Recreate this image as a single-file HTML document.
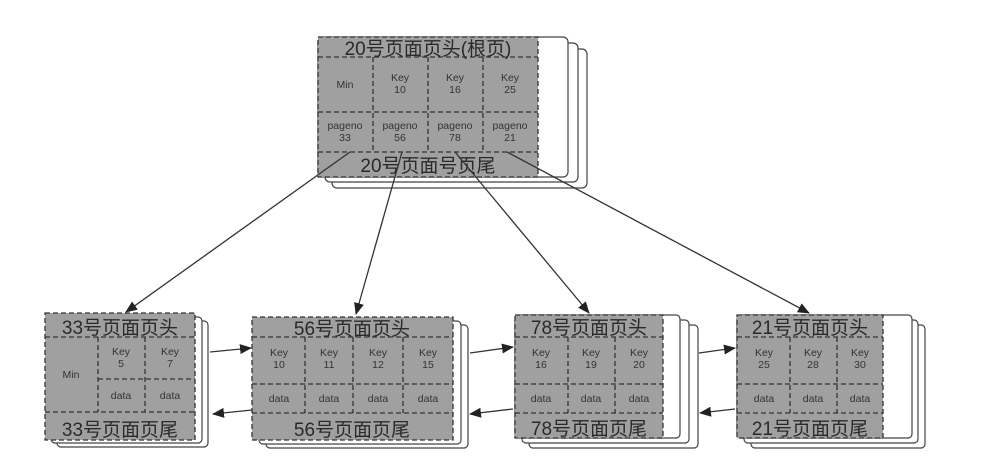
<!DOCTYPE html>
<html><head><meta charset="utf-8"><style>
html,body{margin:0;padding:0;background:#fff;}
svg{display:block;}
.h{font-family:"Liberation Sans","Noto Sans CJK SC",sans-serif;font-size:19px;fill:#2a2a2a;text-anchor:middle;}
.c{font-family:"Liberation Sans",sans-serif;font-size:10.5px;fill:#333;text-anchor:middle;}
.d{stroke:#333;stroke-width:1.3;stroke-dasharray:5,3;fill:none;}
.card{fill:#fff;stroke:#444;stroke-width:1.2;}
.g{fill:#a0a0a0;}
.a{stroke:#333;stroke-width:1.3;fill:none;marker-end:url(#ar);}
</style></head><body>
<svg width="1006" height="471" viewBox="0 0 1006 471">
<defs><marker id="ar" markerWidth="12" markerHeight="10" refX="11" refY="5" orient="auto" markerUnits="userSpaceOnUse"><path d="M0,0 L12,5 L0,10 z" fill="#222"/></marker></defs>

<!-- Root -->
<rect class="card" x="332" y="49" width="255" height="139" rx="5"/>
<rect class="card" x="325" y="43" width="253" height="139" rx="5"/>
<rect class="card" x="318" y="37" width="250" height="140" rx="5"/>
<rect class="g" x="318" y="37" width="220" height="140"/>
<rect class="d" x="318" y="37" width="220" height="140"/>
<line class="d" x1="318" y1="57" x2="538" y2="57"/>
<line class="d" x1="318" y1="112" x2="538" y2="112"/>
<line class="d" x1="318" y1="152" x2="538" y2="152"/>
<line class="d" x1="373" y1="57" x2="373" y2="152"/>
<line class="d" x1="428" y1="57" x2="428" y2="152"/>
<line class="d" x1="483" y1="57" x2="483" y2="152"/>
<text class="h" x="428" y="55">20号页面页头(根页)</text>
<text class="c" x="345" y="88">Min</text>
<text class="c" x="400" y="81">Key</text><text class="c" x="400" y="93">10</text>
<text class="c" x="455" y="81">Key</text><text class="c" x="455" y="93">16</text>
<text class="c" x="510" y="81">Key</text><text class="c" x="510" y="93">25</text>
<text class="c" x="345" y="129">pageno</text><text class="c" x="345" y="141">33</text>
<text class="c" x="400" y="129">pageno</text><text class="c" x="400" y="141">56</text>
<text class="c" x="455" y="129">pageno</text><text class="c" x="455" y="141">78</text>
<text class="c" x="510" y="129">pageno</text><text class="c" x="510" y="141">21</text>
<text class="h" x="428" y="172">20号页面号页尾</text>

<!-- 33 -->
<rect class="card" x="57" y="321" width="151" height="126" rx="4"/>
<rect class="card" x="51" y="317" width="151" height="126" rx="4"/>
<rect class="g" x="45" y="313" width="150" height="127"/>
<rect class="d" x="45" y="313" width="150" height="127"/>
<line class="d" x1="45" y1="337" x2="195" y2="337"/>
<line class="d" x1="98" y1="379" x2="195" y2="379"/>
<line class="d" x1="45" y1="412" x2="195" y2="412"/>
<line class="d" x1="98" y1="337" x2="98" y2="412"/>
<line class="d" x1="145" y1="337" x2="145" y2="412"/>
<text class="h" x="120" y="334">33号页面页头</text>
<text class="c" x="71" y="378">Min</text>
<text class="c" x="121" y="355">Key</text><text class="c" x="121" y="367">5</text>
<text class="c" x="170" y="355">Key</text><text class="c" x="170" y="367">7</text>
<text class="c" x="121" y="399">data</text><text class="c" x="170" y="399">data</text>
<text class="h" x="120" y="436">33号页面页尾</text>

<!-- 56 -->
<rect class="card" x="266" y="325" width="202" height="123" rx="4"/>
<rect class="card" x="259" y="321" width="202" height="123" rx="4"/>
<rect class="g" x="252" y="317" width="201" height="123"/>
<rect class="d" x="252" y="317" width="201" height="123"/>
<line class="d" x1="252" y1="337" x2="453" y2="337"/>
<line class="d" x1="252" y1="384" x2="453" y2="384"/>
<line class="d" x1="252" y1="413" x2="453" y2="413"/>
<line class="d" x1="305" y1="337" x2="305" y2="413"/>
<line class="d" x1="353" y1="337" x2="353" y2="413"/>
<line class="d" x1="403" y1="337" x2="403" y2="413"/>
<text class="h" x="352" y="335">56号页面页头</text>
<text class="c" x="279" y="356">Key</text><text class="c" x="279" y="368">10</text>
<text class="c" x="329" y="356">Key</text><text class="c" x="329" y="368">11</text>
<text class="c" x="378" y="356">Key</text><text class="c" x="378" y="368">12</text>
<text class="c" x="428" y="356">Key</text><text class="c" x="428" y="368">15</text>
<text class="c" x="279" y="402">data</text><text class="c" x="329" y="402">data</text>
<text class="c" x="378" y="402">data</text><text class="c" x="428" y="402">data</text>
<text class="h" x="352" y="436">56号页面页尾</text>

<!-- 78 -->
<rect class="card" x="529" y="325" width="169" height="123" rx="4"/>
<rect class="card" x="522" y="320" width="167" height="123" rx="4"/>
<rect class="card" x="515" y="315" width="165" height="123" rx="4"/>
<rect class="g" x="515" y="315" width="148" height="123"/>
<rect class="d" x="515" y="315" width="148" height="123"/>
<line class="d" x1="515" y1="337" x2="663" y2="337"/>
<line class="d" x1="515" y1="384" x2="663" y2="384"/>
<line class="d" x1="515" y1="413" x2="663" y2="413"/>
<line class="d" x1="568" y1="337" x2="568" y2="413"/>
<line class="d" x1="615" y1="337" x2="615" y2="413"/>
<text class="h" x="589" y="334">78号页面页头</text>
<text class="c" x="541" y="356">Key</text><text class="c" x="541" y="368">16</text>
<text class="c" x="591" y="356">Key</text><text class="c" x="591" y="368">19</text>
<text class="c" x="639" y="356">Key</text><text class="c" x="639" y="368">20</text>
<text class="c" x="541" y="402">data</text><text class="c" x="591" y="402">data</text><text class="c" x="639" y="402">data</text>
<text class="h" x="589" y="435">78号页面页尾</text>

<!-- 21 -->
<rect class="card" x="751" y="325" width="174" height="123" rx="4"/>
<rect class="card" x="744" y="320" width="174" height="123" rx="4"/>
<rect class="card" x="737" y="315" width="175" height="123" rx="4"/>
<rect class="g" x="737" y="315" width="146" height="123"/>
<rect class="d" x="737" y="315" width="146" height="123"/>
<line class="d" x1="737" y1="337" x2="883" y2="337"/>
<line class="d" x1="737" y1="384" x2="883" y2="384"/>
<line class="d" x1="737" y1="413" x2="883" y2="413"/>
<line class="d" x1="790" y1="337" x2="790" y2="413"/>
<line class="d" x1="837" y1="337" x2="837" y2="413"/>
<text class="h" x="810" y="334">21号页面页头</text>
<text class="c" x="764" y="356">Key</text><text class="c" x="764" y="368">25</text>
<text class="c" x="813" y="356">Key</text><text class="c" x="813" y="368">28</text>
<text class="c" x="860" y="356">Key</text><text class="c" x="860" y="368">30</text>
<text class="c" x="764" y="402">data</text><text class="c" x="813" y="402">data</text><text class="c" x="860" y="402">data</text>
<text class="h" x="810" y="435">21号页面页尾</text>

<!-- arrows from root -->
<line class="a" x1="350" y1="152" x2="126" y2="312"/>
<line class="a" x1="402" y1="152" x2="356" y2="314"/>
<line class="a" x1="455" y1="152" x2="589" y2="313"/>
<line class="a" x1="507" y1="152" x2="809" y2="313"/>

<!-- sibling arrows -->
<line class="a" x1="210" y1="352" x2="251" y2="348"/>
<line class="a" x1="252" y1="410" x2="213" y2="414"/>
<line class="a" x1="470" y1="353" x2="513" y2="347"/>
<line class="a" x1="513" y1="409" x2="470" y2="414"/>
<line class="a" x1="699" y1="353" x2="735" y2="348"/>
<line class="a" x1="735" y1="409" x2="700" y2="413"/>
</svg>
</body></html>
